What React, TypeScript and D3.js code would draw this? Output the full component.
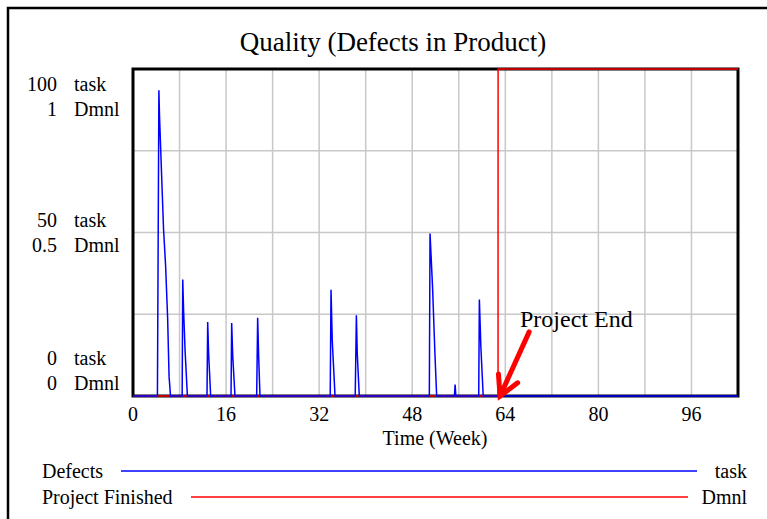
import React from "react";
import * as d3 from "d3";

// ---- data ----
const title = "Quality (Defects in Product)";
const xTickValues = [0, 16, 32, 48, 64, 80, 96];
const xGridValues = [8, 16, 24, 32, 40, 48, 56, 64, 72, 80, 88, 96];
const yGridTask = [25, 50, 75];
const yTickTask = [100, 50, 0];
const yTickDmnl = ["1", "0.5", "0"];

// Defects (task) – time (week) / value
const defectsTime = [
  0, 4.2, 4.45, 4.55, 5.25, 5.6, 5.95, 6.2, 6.45,
  8.45, 8.55, 8.7, 8.95, 9.35,
  12.72, 12.84, 13.0, 13.35,
  16.85, 16.96, 17.15, 17.53,
  21.26, 21.43, 21.6, 21.83,
  33.9, 34.04, 34.25, 34.73,
  38.2, 38.4, 38.55, 38.9,
  50.94, 51.06, 51.5, 51.9, 52.2,
  55.25, 55.37, 55.5,
  59.43, 59.54, 59.8, 60.2,
  104,
];
const defectsValue = [
  0, 0, 93.5, 86, 51, 40, 24, 6, 0,
  0, 35.6, 26, 14, 0,
  0, 22.6, 13, 0,
  0, 22.3, 12, 0,
  0, 23.9, 12, 0,
  0, 32.5, 17, 0,
  0, 24.7, 13, 0,
  0, 49.7, 33, 13, 0,
  0, 3.5, 0,
  0, 29.5, 15, 0,
  0,
];

// Project Finished (Dmnl)
const finishedTime = [0, 62.75, 62.76, 104];
const finishedValue = [0, 0, 1, 1];

const annotationText = "Project End";
const arrowTip = { t: 63.1, v: 0 };
const arrowTail = { t: 68.1, v: 19.6 };

const legendNames = ["Defects", "Project Finished"];
const legendUnits = ["task", "Dmnl"];
const legendColors = ["#0000ff", "#ff0000"];

export default function App() {
  const W = 767, H = 519;
  const left = 133, right = 738, top = 69, bottom = 396;
  const x = d3.scaleLinear().domain([0, 104]).range([left, right]);
  const yTask = d3.scaleLinear().domain([0, 100]).range([bottom, top]);
  const yDmnl = d3.scaleLinear().domain([0, 1]).range([bottom, top]);

  const defectsPts: [number, number][] = defectsTime.map((t, i) => [t, defectsValue[i]]);
  const finishedPts: [number, number][] = finishedTime.map((t, i) => [t, finishedValue[i]]);
  const lineTask = d3.line<[number, number]>().x(d => x(d[0])).y(d => yTask(d[1]));
  const lineDmnl = d3.line<[number, number]>().x(d => x(d[0])).y(d => yDmnl(d[1]));

  const font = "'Liberation Serif', 'Times New Roman', serif";
  const labelOffsets = [22, -5.5, -31];

  // arrow geometry
  const tipX = x(arrowTip.t), tipY = yTask(arrowTip.v);
  const tailX = x(arrowTail.t), tailY = yTask(arrowTail.v);
  const ang = Math.atan2(tipY - tailY, tipX - tailX);
  const barb = 22, spread = 0.5;
  const b1x = tipX - barb * Math.cos(ang - spread), b1y = tipY - barb * Math.sin(ang - spread);
  const b2x = tipX - barb * Math.cos(ang + spread), b2y = tipY - barb * Math.sin(ang + spread);

  return (
    <svg width={W} height={H} style={{ position: "absolute", left: 0, top: 0, background: "#fff" }}
      fontFamily={font}>
      <rect x={0} y={0} width={W} height={H} fill="#fff" />
      {/* outer frame */}
      <rect x={8} y={8} width={900} height={700} fill="none" stroke="#000" strokeWidth={2.5} />
      <text x={393} y={51} textAnchor="middle" fontSize={27} fill="#000">{title}</text>

      {/* grid */}
      {xGridValues.map(v => (
        <line key={"gx" + v} x1={x(v)} x2={x(v)} y1={top} y2={bottom} stroke="#c8c8c8" strokeWidth={1.5} />
      ))}
      {yGridTask.map(v => (
        <line key={"gy" + v} x1={left} x2={right} y1={yTask(v)} y2={yTask(v)} stroke="#c8c8c8" strokeWidth={1.5} />
      ))}
      <rect x={left} y={top} width={right - left} height={bottom - top} fill="none" stroke="#000" strokeWidth={3} />

      {/* series */}
      <path d={lineDmnl(finishedPts) || ""} fill="none" stroke="#ff0000" strokeWidth={1.5} />
      <path d={lineTask(defectsPts) || ""} fill="none" stroke="#0000ff" strokeWidth={1.5} />

      {/* y labels */}
      {yTickTask.map((v, i) => {
        const yy = yTask(v) + labelOffsets[i];
        return (
          <g key={"yl" + i} fontSize={20} fill="#000">
            <text x={57} y={yy} textAnchor="end">{String(v)}</text>
            <text x={74} y={yy}>task</text>
            <text x={57} y={yy + 25} textAnchor="end">{yTickDmnl[i]}</text>
            <text x={74} y={yy + 25}>Dmnl</text>
          </g>
        );
      })}

      {/* x labels */}
      {xTickValues.map(v => (
        <text key={"xl" + v} x={x(v)} y={421} textAnchor="middle" fontSize={20} fill="#000">{v}</text>
      ))}
      <text x={435} y={445} textAnchor="middle" fontSize={20} fill="#000">Time (Week)</text>

      {/* annotation */}
      <text x={520} y={327} fontSize={24} fill="#000">{annotationText}</text>
      <g stroke="#ff0000" strokeWidth={5} strokeLinecap="round" fill="none">
        <line x1={tailX} y1={tailY} x2={tipX} y2={tipY} />
        <polyline points={`${b1x},${b1y} ${tipX},${tipY} ${b2x},${b2y}`} strokeLinejoin="miter" />
      </g>

      {/* legend */}
      {legendNames.map((n, i) => {
        const yy = 471 + i * 26;
        return (
          <g key={"lg" + i} fontSize={20} fill="#000">
            <text x={42} y={yy + 7}>{n}</text>
            <line x1={i === 0 ? 121 : 191} x2={i === 0 ? 697 : 688} y1={yy} y2={yy} stroke={legendColors[i]} strokeWidth={1.5} />
            <text x={747} y={yy + 7} textAnchor="end">{legendUnits[i]}</text>
          </g>
        );
      })}
    </svg>
  );
}
